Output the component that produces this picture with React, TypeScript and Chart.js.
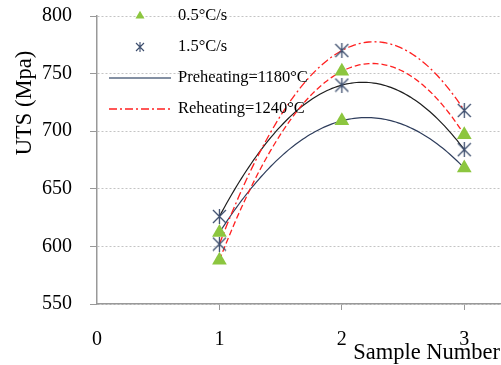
import { useEffect, useRef } from "react";
import { Chart, registerables } from "chart.js";
Chart.register(...registerables);

const sampleNumbers = [1, 2, 3];
const triPreheat = [612, 709, 668];
const triReheat = [588, 752, 697];
const starPreheat = [626, 740, 684];
const starReheat = [602, 770, 718];
const xTicks = [0, 1, 2, 3];
const legendLabels = ["0.5°C/s", "1.5°C/s", "Preheating=1180°C", "Reheating=1240°C"];
const yTitle = "UTS (Mpa)";
const xTitle = "Sample Number";

const FONT = "'Liberation Serif', 'Times New Roman', serif";
const GREEN = "#8cc63f";
const STAR = "#3d4e6e";

function makeStar(size: number, lw: number) {
  const c = document.createElement("canvas");
  c.width = size;
  c.height = size;
  const g = c.getContext("2d")!;
  g.strokeStyle = STAR;
  g.lineWidth = lw;
  const m = 1;
  g.beginPath();
  g.moveTo(m, m);
  g.lineTo(size - m, size - m);
  g.moveTo(size - m, m);
  g.lineTo(m, size - m);
  g.moveTo(size / 2, 0);
  g.lineTo(size / 2, size);
  g.stroke();
  return c;
}

// quadratic (polynomial order 2) trendline through the series points
function trend(xs: number[], ys: number[], x: number) {
  let s = 0;
  for (let i = 0; i < xs.length; i++) {
    let t = ys[i];
    for (let j = 0; j < xs.length; j++) if (j !== i) t *= (x - xs[j]) / (xs[i] - xs[j]);
    s += t;
  }
  return s;
}

const trends = [
  { data: starPreheat, color: "#1e1e1e", dash: [] as number[], width: 1.2 },
  { data: triPreheat, color: "#2e3d5c", dash: [] as number[], width: 1.2 },
  { data: starReheat, color: "#ff2020", dash: [8, 3, 2, 3], width: 1.3 },
  { data: triReheat, color: "#ff2020", dash: [6, 3], width: 1.3 },
];

const trendPlugin = {
  id: "trendlines",
  beforeDatasetsDraw(chart: any) {
    const { ctx, scales, chartArea } = chart;
    const xs = scales.x, ys = scales.y;
    ctx.save();
    ctx.beginPath();
    ctx.rect(chartArea.left, chartArea.top, chartArea.right - chartArea.left, chartArea.bottom - chartArea.top);
    ctx.clip();
    const x0 = sampleNumbers[0], x1 = sampleNumbers[sampleNumbers.length - 1];
    trends.forEach((t) => {
      ctx.beginPath();
      ctx.strokeStyle = t.color;
      ctx.lineWidth = t.width;
      ctx.setLineDash(t.dash);
      const n = 100;
      for (let i = 0; i <= n; i++) {
        const xv = x0 + ((x1 - x0) * i) / n;
        const px = xs.getPixelForValue(xv);
        const py = ys.getPixelForValue(trend(sampleNumbers, t.data, xv));
        if (i === 0) ctx.moveTo(px, py);
        else ctx.lineTo(px, py);
      }
      ctx.stroke();
    });
    ctx.restore();
  },
};

const decorPlugin = {
  id: "decor",
  afterDraw(chart: any) {
    const { ctx } = chart;
    ctx.save();
    ctx.fillStyle = "#000";
    ctx.font = `22.5px ${FONT}`;
    ctx.textAlign = "center";
    ctx.textBaseline = "middle";
    ctx.translate(25, 103);
    ctx.rotate(-Math.PI / 2);
    ctx.fillText(yTitle, 0, 0);
    ctx.restore();

    ctx.save();
    ctx.fillStyle = "#000";
    ctx.font = `22.5px ${FONT}`;
    ctx.textAlign = "right";
    ctx.textBaseline = "middle";
    ctx.fillText(xTitle, 500, 353);

    // legend
    const rows = [16, 47, 78, 109];
    const mx = 140;
    ctx.fillStyle = GREEN;
    const r = 5.2;
    ctx.beginPath();
    ctx.moveTo(mx, rows[0] - r);
    ctx.lineTo(mx + r * 0.866, rows[0] + r * 0.5);
    ctx.lineTo(mx - r * 0.866, rows[0] + r * 0.5);
    ctx.closePath();
    ctx.fill();
    const st = makeStar(10, 1.1);
    ctx.drawImage(st, mx - 5, rows[1] - 5);
    ctx.lineWidth = 1.3;
    ctx.strokeStyle = "#5b6b85";
    ctx.beginPath();
    ctx.moveTo(109, rows[2]);
    ctx.lineTo(171, rows[2]);
    ctx.stroke();
    ctx.strokeStyle = "#ff2020";
    ctx.setLineDash([8, 3, 2, 3]);
    ctx.beginPath();
    ctx.moveTo(109, rows[3]);
    ctx.lineTo(171, rows[3]);
    ctx.stroke();
    ctx.setLineDash([]);
    ctx.fillStyle = "#000";
    ctx.font = `16.5px ${FONT}`;
    ctx.textAlign = "left";
    legendLabels.forEach((l, i) => ctx.fillText(l, 178, rows[i]));
    ctx.restore();
  },
};

export default function App() {
  const ref = useRef<HTMLCanvasElement>(null);
  useEffect(() => {
    const starImg = makeStar(15, 1.3);
    const toXY = (ys: number[]) => sampleNumbers.map((x, i) => ({ x, y: ys[i] }));
    const triDs = (ys: number[]) => ({
      data: toXY(ys),
      pointStyle: "triangle",
      pointRadius: 8.5,
      backgroundColor: GREEN,
      borderColor: GREEN,
      borderWidth: 0,
      showLine: false,
    });
    const starDs = (ys: number[]) => ({
      data: toXY(ys),
      pointStyle: starImg,
      pointRadius: 8,
      showLine: false,
    });
    const chart = new Chart(ref.current!, {
      type: "scatter",
      data: {
        datasets: [triDs(triPreheat), triDs(triReheat), starDs(starPreheat), starDs(starReheat)] as any,
      },
      options: {
        responsive: false,
        animation: false,
        layout: { autoPadding: false, padding: { top: 16, left: 0, right: 0, bottom: 0 } },
        plugins: { legend: { display: false }, tooltip: { enabled: false } },
        scales: {
          x: {
            type: "linear",
            min: 0,
            max: 3.3,
            afterBuildTicks: (s: any) => {
              s.ticks = xTicks.map((v) => ({ value: v }));
            },
            afterFit: (s: any) => {
              s.height = 61;
              s.paddingLeft = 0;
              s.paddingRight = 0;
            },
            grid: {
              drawOnChartArea: false,
              drawTicks: true,
              tickLength: 6,
              tickColor: (c: any) => (c.tick && c.tick.value === 0 ? "rgba(0,0,0,0)" : "#999"),
            },
            border: { color: "#999", width: 1.5 },
            ticks: { font: { family: FONT, size: 20 }, color: "#000", padding: 18, maxRotation: 0 },
          },
          y: {
            min: 550,
            max: 800,
            afterFit: (s: any) => {
              s.width = 97;
              s.paddingTop = 0;
              s.paddingBottom = 0;
            },
            grid: { color: "#c4c4c4", tickColor: "#999", tickLength: 7, lineWidth: 1 },
            border: { color: "#999", width: 1.5, dash: [2, 2] },
            ticks: { stepSize: 50, font: { family: FONT, size: 20 }, color: "#000", padding: 18 },
          },
        },
      },
      plugins: [trendPlugin, decorPlugin],
    });
    return () => chart.destroy();
  }, []);
  return (
    <div style={{ position: "absolute", left: 0, top: 0, width: 501, height: 365, background: "#fff" }}>
      <canvas ref={ref} width={501} height={365} />
    </div>
  );
}
